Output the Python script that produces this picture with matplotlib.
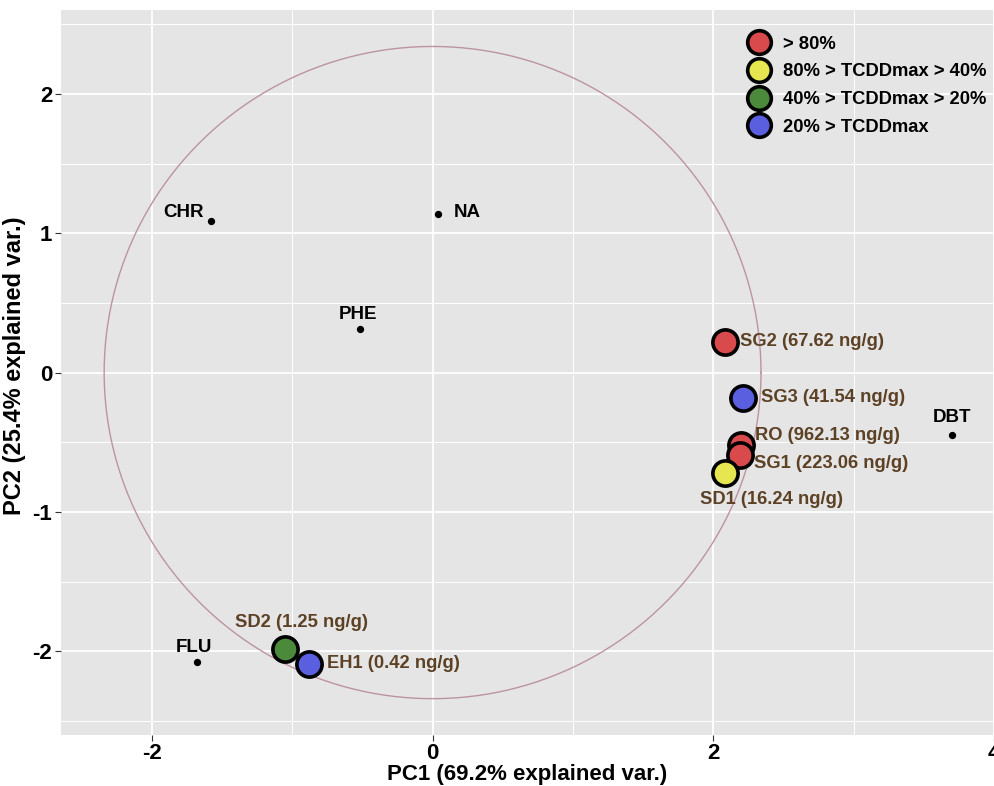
import numpy as np
import matplotlib.pyplot as plt
from matplotlib.lines import Line2D

plt.rcParams['font.family'] = ['Liberation Sans', 'DejaVu Sans']
plt.rcParams['axes.unicode_minus'] = False

# variable loadings (small black dots)
var_names = ['CHR', 'NA', 'PHE', 'DBT', 'FLU']
var_x = [-1.58, 0.04, -0.52, 3.70, -1.68]
var_y = [1.09, 1.14, 0.31, -0.45, -2.08]

# samples
sample_names = ['SG2 (67.62 ng/g)', 'SG3 (41.54 ng/g)', 'RO (962.13 ng/g)',
                'SG1 (223.06 ng/g)', 'SD1 (16.24 ng/g)', 'SD2 (1.25 ng/g)',
                'EH1 (0.42 ng/g)']
sample_x = [2.08, 2.21, 2.20, 2.19, 2.08, -1.05, -0.88]
sample_y = [0.22, -0.18, -0.52, -0.59, -0.72, -1.98, -2.09]
sample_group = [0, 3, 0, 0, 1, 2, 3]

group_labels = ['> 80%', '80% > TCDDmax > 40%', '40% > TCDDmax > 20%', '20% > TCDDmax']
group_colors = ['#D94A4C', '#E6E650', '#4B8A3A', '#5A5FE0']

circle_r = 2.34

fig = plt.figure(figsize=(9.94, 7.86), dpi=100)
ax = fig.add_axes([0.061, 0.065, 0.939, 0.922])
ax.set_facecolor('#E5E5E5')

ax.set_xlim(-2.65, 4.0)
ax.set_ylim(-2.6, 2.6)
ax.set_xticks([-2, 0, 2, 4])
ax.set_yticks([-2, -1, 0, 1, 2])
ax.set_xticks([-1, 1, 3], minor=True)
ax.set_yticks([-2.5, -1.5, -0.5, 0.5, 1.5, 2.5], minor=True)
ax.grid(which='major', color='white', lw=1.3)
ax.grid(which='minor', color='white', lw=0.7)
ax.set_axisbelow(True)
for s in ax.spines.values():
    s.set_visible(False)
ax.tick_params(which='major', length=4, color='#333333', labelsize=16, pad=2)
ax.tick_params(which='minor', length=0)
for lab in ax.get_xticklabels() + ax.get_yticklabels():
    lab.set_fontweight('bold')
    lab.set_color('black')

# correlation circle
t = np.linspace(0, 2 * np.pi, 400)
ax.plot(circle_r * np.cos(t), circle_r * np.sin(t), color='#BC949E', lw=1.0, zorder=1)

# variable points
ax.scatter(var_x, var_y, s=18, color='black', zorder=3)
var_offsets = [(-5, 6), (11, 1), (-1, 11), (0, 13), (-2, 11)]
var_ha = ['right', 'left', 'center', 'center', 'center']
for name, x, y, off, ha in zip(var_names, var_x, var_y, var_offsets, var_ha):
    ax.annotate(name, (x, y), xytext=off, textcoords='offset points',
                ha=ha, va='center', fontsize=13.5, fontweight='bold', color='black')

# sample points
for x, y, g in zip(sample_x, sample_y, sample_group):
    ax.scatter(x, y, s=330, color=group_colors[g], edgecolor='black', linewidths=2.6, zorder=4)

lab_offsets = [(11, 0), (13, 0), (10, 7), (10, -6), (34, -19), (12, 19), (13, 0)]
lab_ha = ['left', 'left', 'left', 'left', 'center', 'center', 'left']
for name, x, y, off, ha in zip(sample_names, sample_x, sample_y, lab_offsets, lab_ha):
    ax.annotate(name, (x, y), xytext=off, textcoords='offset points',
                ha=ha, va='center', fontsize=13.2, fontweight='bold', color='#5C4125', zorder=5)

ax.set_xlabel('PC1 (69.2% explained var.)', fontsize=16, fontweight='bold')
ax.set_ylabel('PC2 (25.4% explained var.)', fontsize=17, fontweight='bold')
ax.xaxis.set_label_coords(0.5, -0.040)
ax.yaxis.set_label_coords(-0.037, 0.51)

handles = [Line2D([], [], ls='none', marker='o', markersize=17, markerfacecolor=c,
                  markeredgecolor='black', markeredgewidth=2.6) for c in group_colors]
leg = ax.legend(handles, group_labels, loc='upper right', bbox_to_anchor=(1.008, 0.985),
                frameon=False, prop={'weight': 'bold', 'size': 13.2},
                handletextpad=0.3, labelspacing=0.58, borderaxespad=0.4)

fig.savefig('out.png', dpi=100)
